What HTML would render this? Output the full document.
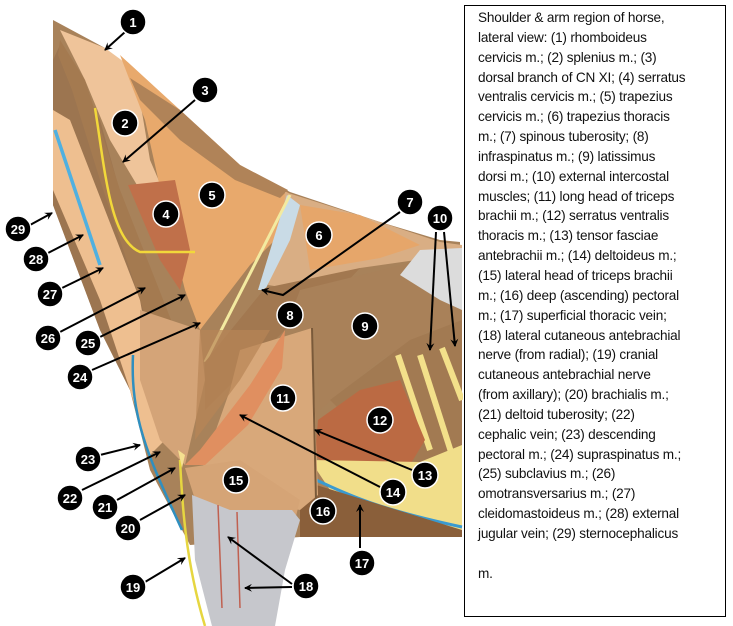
<!DOCTYPE html>
<html><head><meta charset="utf-8"><style>
html,body{margin:0;padding:0;background:#fff;width:733px;height:626px;overflow:hidden;position:relative}
svg{position:absolute;left:0;top:0}
#box{position:absolute;left:464px;top:5px;width:262px;height:612px;border:1.5px solid #000;box-sizing:border-box;background:#fff}
#txt{position:absolute;left:478px;top:8px;font-family:"Liberation Sans",sans-serif;font-size:13.6px;line-height:19.85px;white-space:nowrap;color:#111;letter-spacing:-0.2px}
</style></head><body>
<svg width="463" height="626" viewBox="0 0 463 626">
<defs><marker id="a" markerWidth="8" markerHeight="8" refX="7" refY="4" orient="auto" markerUnits="userSpaceOnUse"><path d="M0,0 L8,4 L0,8 L3,4z" fill="#000"/></marker></defs>
<!-- base silhouette -->
<path d="M53,20 L105,48 L180,110 L240,165 L290,192 L380,222 L440,240 L460,242 L460,537 L300,537 L190,545 L150,470 L130,390 L100,330 L53,205 Z" fill="#a8825a"/>
<!-- neck left bands -->
<path d="M53,60 L60,45 L100,120 L150,300 L160,430 L140,410 L100,330 L53,205Z" fill="#9c7550"/>
<path d="M53,110 L70,120 L140,300 L165,440 L150,455 L130,390 L100,300 L53,190Z" fill="#eebf90"/>
<path d="M60,30 L105,48 L135,70 L150,160 L165,195 L140,190 L110,140 L85,80Z" fill="#efc49a"/>
<path d="M60,40 L85,80 L120,190 L175,330 L195,420 L180,440 L150,330 L100,180 L72,90 L58,55Z" fill="#a47a50"/>
<path d="M120,55 L180,110 L240,165 L292,195 L300,215 L250,265 L200,330 L185,290 L165,210 L145,120Z" fill="#e8a96c"/>
<path d="M130,78 L180,110 L240,165 L288,190 L280,198 L235,180 L180,140 L140,100Z" fill="#b08358"/>
<path d="M128,185 L175,180 L190,250 L180,290 L160,260Z" fill="#c0704a"/>
<path d="M95,108 C105,170 110,240 140,252 L195,252" fill="none" stroke="#f2d83a" stroke-width="2.5"/>
<path d="M55,130 L100,265" stroke="#4fb0e0" stroke-width="3.5" fill="none"/>
<path d="M133,355 C130,420 150,460 182,530" stroke="#2f8fbf" stroke-width="2.5" fill="none"/>
<!-- supraspinatus area -->
<path d="M140,310 L200,330 L205,380 L185,465 L160,440 L140,380Z" fill="#d4a478"/>
<!-- trapezius thoracis -->
<path d="M285,192 L380,222 L440,242 L462,245 L462,255 L430,258 L360,268 L300,290 L268,285 L282,230Z" fill="#d9ae84"/>
<path d="M300,205 L360,215 L420,245 L380,258 L310,270Z" fill="#e6a66a"/>
<path d="M287,195 L300,205 L290,240 L265,290 L258,290Z" fill="#c9dbe6"/>
<path d="M290,195 L205,362" stroke="#f3eaa0" stroke-width="3"/>
<!-- infraspinatus -->
<path d="M265,288 L360,268 L330,300 L285,330 L240,375 L205,410 L205,362Z" fill="#a27850"/>
<!-- latissimus -->
<path d="M300,290 L430,258 L462,252 L462,330 L430,330 L380,360 L320,410 L315,330 L285,330Z" fill="#a98159"/>
<path d="M420,250 L462,248 L462,310 L440,300 L400,275Z" fill="#dcdcdc"/>
<!-- intercostal -->
<path d="M330,400 L410,340 L462,320 L462,460 L400,470Z" fill="#a27a52"/>
<g stroke="#f3e08a" stroke-width="6" fill="none"><path d="M398,355 L430,450"/><path d="M420,355 L452,455"/><path d="M442,348 L462,400"/></g>
<path d="M318,420 L360,390 L400,380 L425,440 L410,465 L330,470 L315,455Z" fill="#bb6a43"/>
<path d="M310,460 L420,462 L462,445 L462,530 L400,520 L330,490Z" fill="#f1de8a"/>
<path d="M305,475 C340,490 360,505 462,527" stroke="#3a9ad0" stroke-width="3" fill="none"/>
<path d="M300,480 L462,530 L462,537 L300,537Z" fill="#8a5f3a"/>
<!-- triceps long head -->
<path d="M240,350 L312,328 L318,495 L300,510 L275,505 L200,475 L230,390Z" fill="#d8a87a"/>
<path d="M312,328 L316,500" stroke="#7a5a3a" stroke-width="2"/>
<!-- deltoid -->
<path d="M285,330 L250,385 L200,450 L185,465 L205,465 L248,425 L282,368Z" fill="#e08f60"/>
<path d="M200,330 L270,330 L240,380 L195,440Z" fill="#b88456" opacity=".7"/>
<!-- lateral triceps -->
<path d="M185,468 L240,460 L300,500 L292,532 L260,530 L200,515Z" fill="#d5a476"/>
<!-- leg -->
<path d="M192,495 L230,510 L292,510 L300,520 L285,570 L275,626 L212,626 L195,560Z" fill="#c6c7cc"/>
<path d="M218,505 L222,608 M237,512 L240,608" stroke="#c06050" stroke-width="1.5" fill="none"/>
<path d="M180,460 C182,500 185,560 205,626" stroke="#e6d640" stroke-width="2.5" fill="none"/>
<path d="M178,450 L182,468 L185,455Z" fill="#f5e090"/>
<!-- arrows -->
<g stroke="#000" stroke-width="2" fill="none" marker-end="url(#a)">
<path d="M125,32 L105,50"/><path d="M195,100 L123,162"/><path d="M400,212 L283,295 L262,290"/>
<path d="M436,232 L430,350"/><path d="M444,232 L455,346"/><path d="M412,470 L315,430"/>
<path d="M380,487 L240,415"/><path d="M360,548 L360,505"/><path d="M292,584 L228,537"/>
<path d="M292,587 L245,588"/><path d="M145,582 L185,558"/><path d="M140,520 L185,495"/>
<path d="M117,500 L175,468"/><path d="M82,490 L160,452"/><path d="M100,455 L140,445"/>
<path d="M92,370 L200,323"/><path d="M100,337 L185,295"/><path d="M60,332 L145,288"/>
<path d="M62,288 L103,268"/><path d="M48,253 L83,235"/><path d="M30,225 L52,213"/>
</g>
<g font-family="Liberation Sans,sans-serif" font-size="13" font-weight="bold" fill="#fff" text-anchor="middle">
<g stroke="#fff" stroke-width="1.5" fill="#000">
<circle cx="133" cy="22" r="13"/><circle cx="125" cy="123" r="13"/><circle cx="205" cy="90" r="13"/><circle cx="166" cy="214" r="13"/><circle cx="212" cy="195" r="13"/><circle cx="319" cy="235" r="13"/><circle cx="410" cy="202" r="13"/><circle cx="290" cy="315" r="13"/><circle cx="365" cy="326" r="13"/><circle cx="440" cy="218" r="13"/><circle cx="283" cy="398" r="13"/><circle cx="380" cy="420" r="13"/><circle cx="425" cy="475" r="13"/><circle cx="393" cy="492" r="13"/><circle cx="236" cy="480" r="13"/><circle cx="323" cy="511" r="13"/><circle cx="362" cy="563" r="13"/><circle cx="306" cy="586" r="13"/><circle cx="133" cy="587" r="13"/><circle cx="128" cy="528" r="13"/><circle cx="105" cy="507" r="13"/><circle cx="70" cy="498" r="13"/><circle cx="88" cy="459" r="13"/><circle cx="80" cy="377" r="13"/><circle cx="88" cy="343" r="13"/><circle cx="48" cy="338" r="13"/><circle cx="50" cy="294" r="13"/><circle cx="36" cy="259" r="13"/><circle cx="18" cy="229" r="13"/>
</g>
<text x="133" y="27">1</text><text x="125" y="128">2</text><text x="205" y="95">3</text><text x="166" y="219">4</text><text x="212" y="200">5</text><text x="319" y="240">6</text><text x="410" y="207">7</text><text x="290" y="320">8</text><text x="365" y="331">9</text><text x="440" y="223">10</text><text x="283" y="403">11</text><text x="380" y="425">12</text><text x="425" y="480">13</text><text x="393" y="497">14</text><text x="236" y="485">15</text><text x="323" y="516">16</text><text x="362" y="568">17</text><text x="306" y="591">18</text><text x="133" y="592">19</text><text x="128" y="533">20</text><text x="105" y="512">21</text><text x="70" y="503">22</text><text x="88" y="464">23</text><text x="80" y="382">24</text><text x="88" y="348">25</text><text x="48" y="343">26</text><text x="50" y="299">27</text><text x="36" y="264">28</text><text x="18" y="234">29</text>
</g>
</svg>
<div id="box"></div>
<div id="txt">Shoulder &amp; arm region of horse,<br>lateral view: (1) rhomboideus<br>cervicis m.; (2) splenius m.; (3)<br>dorsal branch of CN XI; (4) serratus<br>ventralis cervicis m.; (5) trapezius<br>cervicis m.; (6) trapezius thoracis<br>m.; (7) spinous tuberosity; (8)<br>infraspinatus m.; (9) latissimus<br>dorsi m.; (10) external intercostal<br>muscles; (11) long head of triceps<br>brachii m.; (12) serratus ventralis<br>thoracis m.; (13) tensor fasciae<br>antebrachii m.; (14) deltoideus m.;<br>(15) lateral head of triceps brachii<br>m.; (16) deep (ascending) pectoral<br>m.; (17) superficial thoracic vein;<br>(18) lateral cutaneous antebrachial<br>nerve (from radial); (19) cranial<br>cutaneous antebrachial nerve<br>(from axillary); (20) brachialis m.;<br>(21) deltoid tuberosity; (22)<br>cephalic vein; (23) descending<br>pectoral m.; (24) supraspinatus m.;<br>(25) subclavius m.; (26)<br>omotransversarius m.; (27)<br>cleidomastoideus m.; (28) external<br>jugular vein; (29) sternocephalicus<br><br>m.</div>
</body></html>
